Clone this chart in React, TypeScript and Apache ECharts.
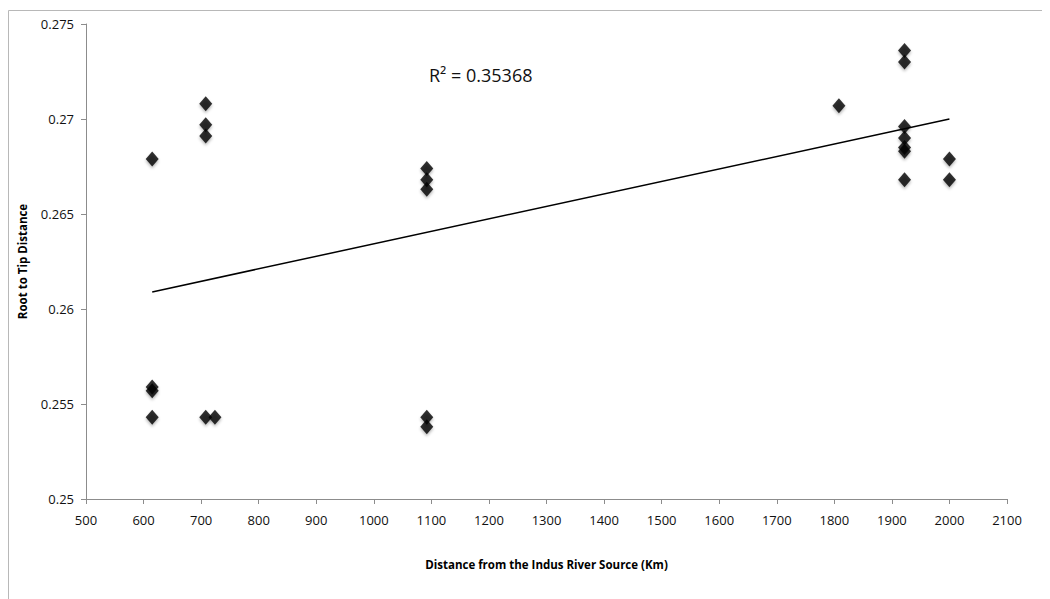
import React, { useEffect, useRef } from "react";
import * as echarts from "echarts";

const xTicks = [500, 2100];
const yRange = [0.25, 0.275];

const distanceKm = [
  615, 615, 615, 615,
  708, 708, 708, 708,
  724,
  1092, 1092, 1092, 1092, 1092,
  1808,
  1922, 1922, 1922, 1922, 1922, 1922, 1922,
  2000, 2000,
];
const rootToTip = [
  0.2679, 0.2559, 0.2557, 0.2543,
  0.2708, 0.2697, 0.2691, 0.2543,
  0.2543,
  0.2674, 0.2668, 0.2663, 0.2543, 0.2538,
  0.2707,
  0.2736, 0.2730, 0.2696, 0.2690, 0.2685, 0.2683, 0.2668,
  0.2679, 0.2668,
];
const trendX = [615, 2000];
const trendY = [0.2609, 0.27];
const rSquaredLabel = "R² = 0.35368";

export default function App() {
  const ref = useRef<HTMLDivElement>(null);
  useEffect(() => {
    if (!ref.current) return;
    const chart = echarts.init(ref.current, null, { renderer: "svg" });
    const font = "'Open Sans', 'Noto Sans', sans-serif";
    const axisColor = "#8c8c8c";
    chart.setOption({
      animation: false,
      backgroundColor: "#fff",
      grid: { left: 71, right: 43, top: 16, bottom: 100, containLabel: false },
      xAxis: {
        type: "value",
        min: xTicks[0],
        max: xTicks[1],
        interval: 100,
        name: "Distance from the Indus River Source (Km)",
        nameLocation: "middle",
        nameGap: 59,
        nameTextStyle: { fontFamily: font, fontSize: 11.5, fontWeight: "bold", color: "#000" },
        axisLine: { show: true, lineStyle: { color: axisColor, width: 1 } },
        axisTick: { show: true, inside: false, length: 5, lineStyle: { color: axisColor } },
        axisLabel: {
          fontFamily: font,
          fontSize: 13,
          color: "#111",
          margin: 14,
          formatter: (v: number) => String(v),
        },
        splitLine: { show: false },
      },
      yAxis: {
        type: "value",
        min: yRange[0],
        max: yRange[1],
        interval: 0.005,
        name: "Root to Tip Distance",
        nameLocation: "middle",
        nameGap: 58,
        nameTextStyle: { fontFamily: font, fontSize: 11.5, fontWeight: "bold", color: "#000" },
        axisLine: { show: true, lineStyle: { color: axisColor, width: 1 } },
        axisTick: { show: true, inside: false, length: 5, lineStyle: { color: axisColor } },
        axisLabel: {
          fontFamily: font,
          fontSize: 13,
          color: "#111",
          margin: 12,
          formatter: (v: number) => String(parseFloat(v.toFixed(3))),
        },
        splitLine: { show: false },
      },
      graphic: [
        {
          type: "rect",
          shape: { x: 0.5, y: 2.5, width: 1200, height: 800 },
          style: { fill: "none", stroke: "#b8b8b8", lineWidth: 1 },
          silent: true,
        },
        {
          type: "text",
          left: 421,
          top: 58,
          style: { text: rSquaredLabel, fontFamily: font, fontSize: 18, fill: "#111" },
        },
      ],
      series: [
        {
          type: "line",
          data: trendX.map((x, i) => [x, trendY[i]]),
          showSymbol: false,
          symbol: "none",
          lineStyle: { color: "#000", width: 1.5 },
          z: 2,
        },
        {
          type: "scatter",
          data: distanceKm.map((x, i) => [x, rootToTip[i]]),
          symbol: "diamond",
          symbolSize: [13, 15],
          itemStyle: {
            color: "#000",
            shadowColor: "rgba(0,0,0,0.35)",
            shadowBlur: 3,
            shadowOffsetY: 2,
          },
          z: 3,
        },
      ],
    });
    return () => chart.dispose();
  }, []);
  return <div ref={ref} style={{ width: 1042, height: 591 }} />;
}
